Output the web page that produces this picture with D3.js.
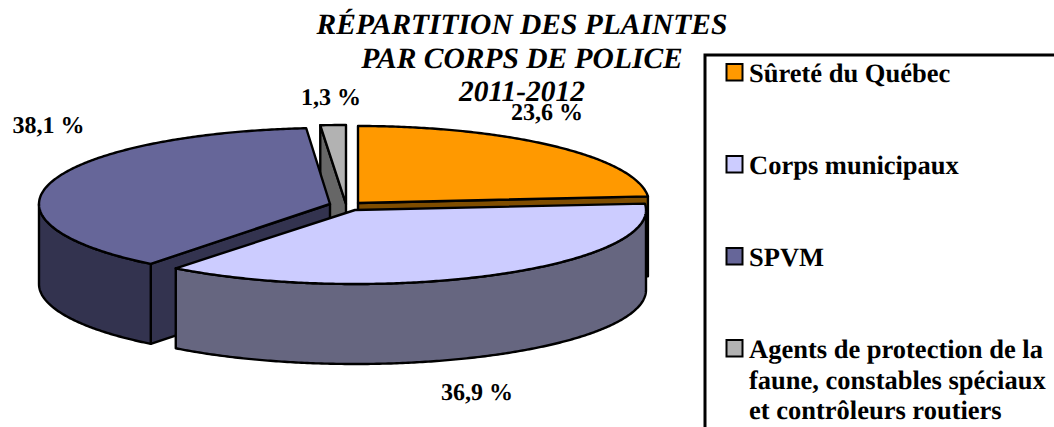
<!DOCTYPE html>
<html><head><meta charset="utf-8">
<script src="https://d3js.org/d3.v7.min.js"></script>
<style>html,body{margin:0;padding:0;background:#fff;overflow:hidden}svg{display:block}
text{font-family:"Liberation Serif","Times New Roman",serif;font-weight:bold;fill:#000;text-rendering:geometricPrecision}</style>
</head><body><svg id="c" width="1054" height="427"></svg>
<script>
const categories = ["Sûreté du Québec","Corps municipaux","SPVM","Agents de protection de la faune, constables spéciaux et contrôleurs routiers"];
const values = [23.6,36.9,38.1,1.3];
const valueLabels = ["23,6 %","36,9 %","38,1 %","1,3 %"];
const titleLines = ["RÉPARTITION DES PLAINTES","PAR CORPS DE POLICE","2011-2012"];
const topColors = ["#FF9900","#CCCCFF","#666699","#B2B2B2"];
const sideColors = ["#7F4D00","#666680","#33334F","#666666"];
const legendLines = [["Sûreté du Québec"],["Corps municipaux"],["SPVM"],["Agents de protection de la","faune, constables spéciaux","et contrôleurs routiers"]];

// layout
const apex = [[358,203],[355,210],[330,204],[346,204]];
const radiusX = [291,291,291,315], radiusY = [77,74,76,79], depth = 80;
const drawOrder = [3,0,2,1];
const labelPos = [[547,119.5],[477,400],[48.5,133],[331,105]];
const legendY = [82,174,266,358];

const svg = d3.select("#c");
const slices = d3.pie().sort(null).value(d=>d)(values);
const TAU = Math.PI*2;

function rimPoints(a0,a1,rx,ry,dy){
  const x=d3.scaleLinear().domain([-1,1]).range([-rx,rx]);
  const y=d3.scaleLinear().domain([-1,1]).range([-ry+dy,ry+dy]);
  const n=Math.max(2,Math.ceil((a1-a0)/0.01));
  return d3.range(n+1).map(i=>{const t=a0+(a1-a0)*i/n;return [x(Math.sin(t)),y(-Math.cos(t))];});
}
const line=d3.line();
drawOrder.forEach(i=>{
  const s=slices[i], rx=radiusX[i], ry=radiusY[i];
  const g=svg.append("g").attr("transform",`translate(${apex[i]})`);
  const style=(sel,fill)=>sel.attr("fill",fill).attr("stroke","#000").attr("stroke-width",2.4).attr("stroke-linejoin","round");
  const faces = [];
  if(i===0) faces.push(s.endAngle);
  if(i===2) faces.push(s.startAngle);
  if(i===3) faces.push(s.startAngle);
  faces.forEach(a=>{
    const p=rimPoints(a,a,rx,ry,0)[0];
    style(g.append("path"),sideColors[i]).attr("d",line([[0,0],p,[p[0],p[1]+depth],[0,depth]])+"Z");
  });
  // outer wall: the part of the rim that faces the viewer
  const w0=Math.max(s.startAngle,TAU/4), w1=Math.min(s.endAngle,TAU*3/4);
  if(w1>w0){
    const top=rimPoints(w0,w1,rx,ry,0), bot=rimPoints(w0,w1,rx,ry,depth).reverse();
    style(g.append("path"),sideColors[i]).attr("d",line(top.concat(bot))+"Z");
  }
  // top surface
  style(g.append("path"),topColors[i]).attr("d",line([[0,0]].concat(rimPoints(s.startAngle,s.endAngle,rx,ry,0)))+"Z");
});

// title
titleLines.forEach((t,i)=>svg.append("text").attr("x",522).attr("y",34+i*33.5).attr("text-anchor","middle")
  .attr("font-size",29.5).attr("font-style","italic").text(t));
// value labels
valueLabels.forEach((t,i)=>svg.append("text").attr("x",labelPos[i][0]).attr("y",labelPos[i][1]).attr("text-anchor","middle")
  .attr("font-size",24).text(t));
// legend
svg.append("path").attr("d",d3.line()([[705,427],[705,55],[1054,55]])).attr("fill","none").attr("stroke","#000").attr("stroke-width",3);
categories.forEach((c,i)=>{
  svg.append("rect").attr("x",726.5).attr("y",legendY[i]-18).attr("width",16).attr("height",16.5)
    .attr("fill",topColors[i]).attr("stroke","#000").attr("stroke-width",2);
  legendLines[i].forEach((l,j)=>svg.append("text").attr("x",749).attr("y",legendY[i]+j*30.5).attr("font-size",26.5).text(l));
});
</script></body></html>
